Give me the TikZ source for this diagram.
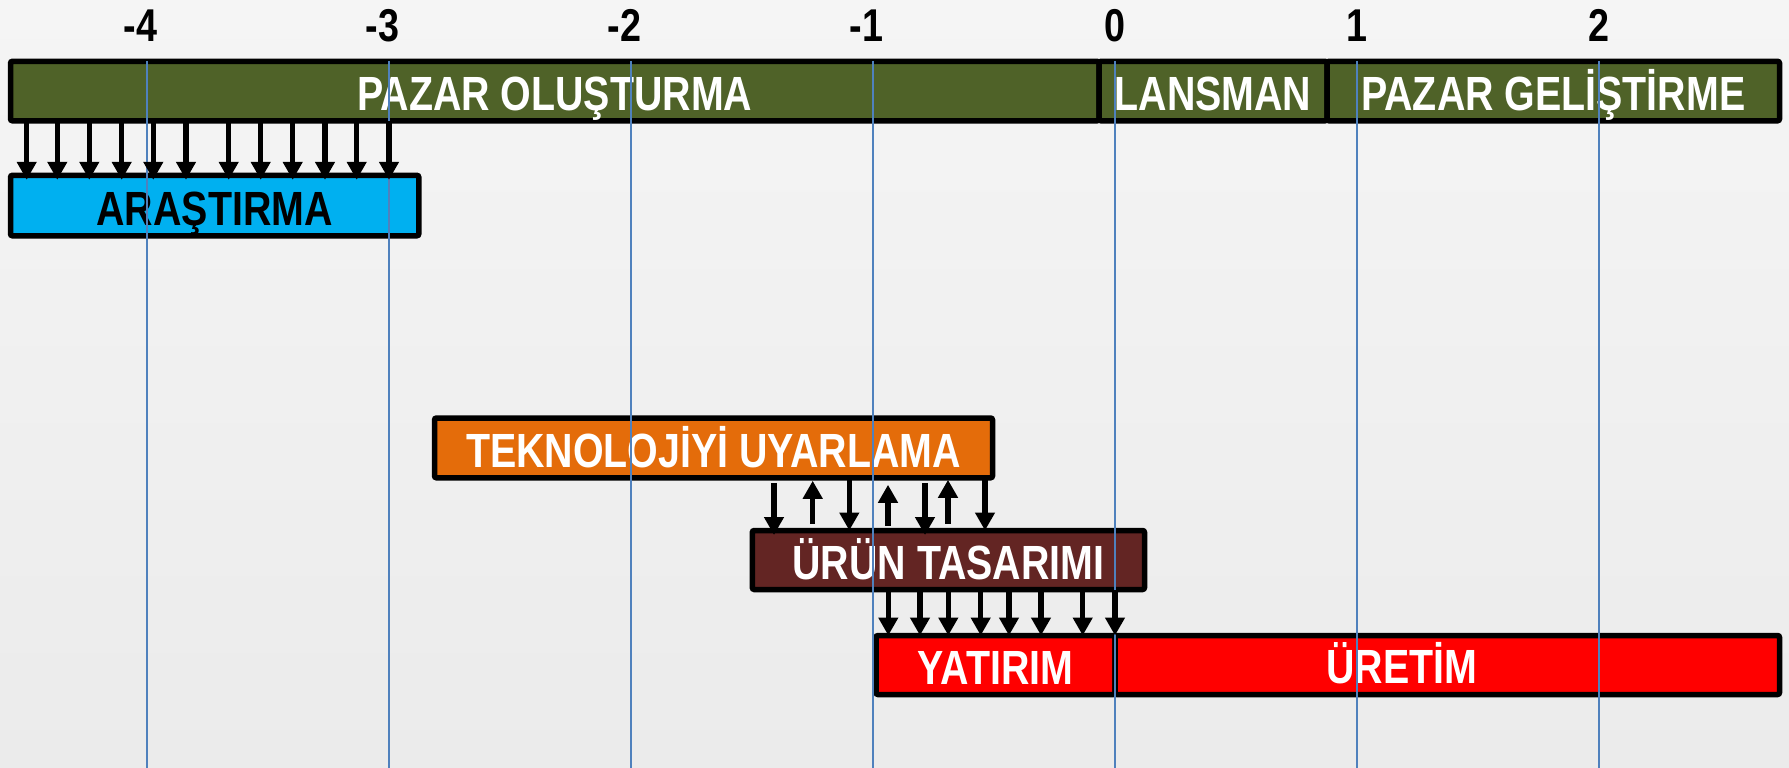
\documentclass[tikz,border=0pt]{standalone}
\usepackage{fontspec}
\usetikzlibrary{arrows.meta}
\newfontfamily\narrowsans[FakeStretch=0.82]{Liberation Sans}

\definecolor{bgtop}{RGB}{245,245,245}
\definecolor{bgbot}{RGB}{235,235,235}
\definecolor{olivebar}{RGB}{79,98,40}
\definecolor{skybar}{RGB}{0,176,240}
\definecolor{orangebar}{RGB}{228,108,10}
\definecolor{maroonbar}{RGB}{99,37,35}
\definecolor{redbar}{RGB}{255,0,0}
\definecolor{gridblue}{RGB}{79,129,189}

\tikzset{
  phase/.style={draw=black, line width=5.5pt, rounded corners=2pt,
    anchor=north west, inner sep=0pt, outer sep=0pt,
    text=white, font=\narrowsans\bfseries\fontsize{48}{50}\selectfont,
    text height=39pt, text depth=0pt},
  phaselabel/.style={inner sep=0pt, outer sep=0pt, text=white,
    font=\narrowsans\bfseries\fontsize{48}{50}\selectfont,
    text height=39pt, text depth=0pt},
  yearlabel/.style={inner sep=0pt, anchor=base,
    font=\narrowsans\bfseries\fontsize{46}{48}\selectfont},
  gridline/.style={draw=gridblue, line width=2pt},
  flow/.style={line width=5.2pt, -{Triangle[length=18pt,width=19pt]}},
  sink/.style={shorten >=-4.5pt},
  gap/.style={shorten <=5pt},
}

\begin{document}
\begin{tikzpicture}[x=1pt,y=-1pt]
  \useasboundingbox (0,0) rectangle (1789,768);
  \shade[top color=bgtop, bottom color=bgbot] (0,0) rectangle (1789,768);

  % phase bars
  \node[phase, fill=olivebar, minimum width=1088.5pt, minimum height=59.5pt]
    (po) at (10.5,61.3) {PAZAR OLUŞTURMA};
  \node[phase, fill=olivebar, minimum width=228pt, minimum height=59.5pt]
    (la) at (1099,61.3) {LANSMAN};
  \node[phase, fill=olivebar, minimum width=452.5pt, minimum height=59.5pt]
    (pg) at (1327,61.3) {PAZAR GELİŞTİRME};
  \node[phase, fill=skybar, text=black, minimum width=408.3pt, minimum height=60.5pt]
    (ar) at (10.5,175.3) {ARAŞTIRMA};
  \node[phase, fill=orangebar, minimum width=558pt, minimum height=59.8pt]
    (tu) at (434.5,418) {TEKNOLOJİYİ UYARLAMA};
  \node[phase, fill=maroonbar, minimum width=392.2pt, minimum height=59pt]
    (ut) at (752.3,530.5) {ÜRÜN TASARIMI};
  \node[phase, fill=redbar, minimum width=239pt, minimum height=59pt]
    (ya) at (876,635.5) {YATIRIM};
  \node[phase, fill=redbar, minimum width=664.5pt, minimum height=59pt]
    (ur) at (1115,635.5) {};
  \node[phaselabel] (urt) at (1402,664) {ÜRETİM};

  % yearly grid
  \foreach \gx in {146.7,389,631,873,1115,1357,1599}
    \draw[gridline] (\gx,61) -- (\gx,768);

  % year numbers
  \node[yearlabel] (y-4) at (146.7,42) {\llap{-}4};
  \node[yearlabel] (y-3) at (389,42) {\llap{-}3};
  \node[yearlabel] (y-2) at (631,42) {\llap{-}2};
  \node[yearlabel] (y-1) at (873,42) {\llap{-}1};
  \node[yearlabel] (y0) at (1115,42) {0};
  \node[yearlabel] (y1) at (1357,42) {1};
  \node[yearlabel] (y2) at (1599,42) {2};

  % market creation feeds research
  \foreach \ax in {26.7,57.3,89.3,121.7,153.3,186,228.7,260.7,292.7,325,356.7,389}
    \draw[flow, sink] (po.south -| \ax,0) -- (ar.north -| \ax,0);

  % technology adaptation <-> product design
  \draw[flow, sink, gap] (tu.south -| 774,0) -- (ut.north -| 774,0);
  \draw[flow, shorten >=3pt, shorten <=7pt] (ut.north -| 812.7,0) -- (tu.south -| 812.7,0);
  \draw[flow] (tu.south -| 849.3,0) -- (ut.north -| 849.3,0);
  \draw[flow, gap, shorten >=7pt] (ut.north -| 888,0) -- (tu.south -| 888,0);
  \draw[flow, sink, gap] (tu.south -| 925,0) -- (ut.north -| 925,0);
  \draw[flow, shorten >=2pt, shorten <=7pt] (ut.north -| 948,0) -- (tu.south -| 948,0);
  \draw[flow] (tu.south -| 985,0) -- (ut.north -| 985,0);

  % product design feeds investment
  \foreach \bx in {888.3,920,948.3,980.7,1009,1041,1082.7}
    \draw[flow] (ut.south -| \bx,0) -- (ya.north -| \bx,0);
  \draw[flow] (ut.south -| 1115,0) -- (ur.north west);
\end{tikzpicture}
\end{document}
